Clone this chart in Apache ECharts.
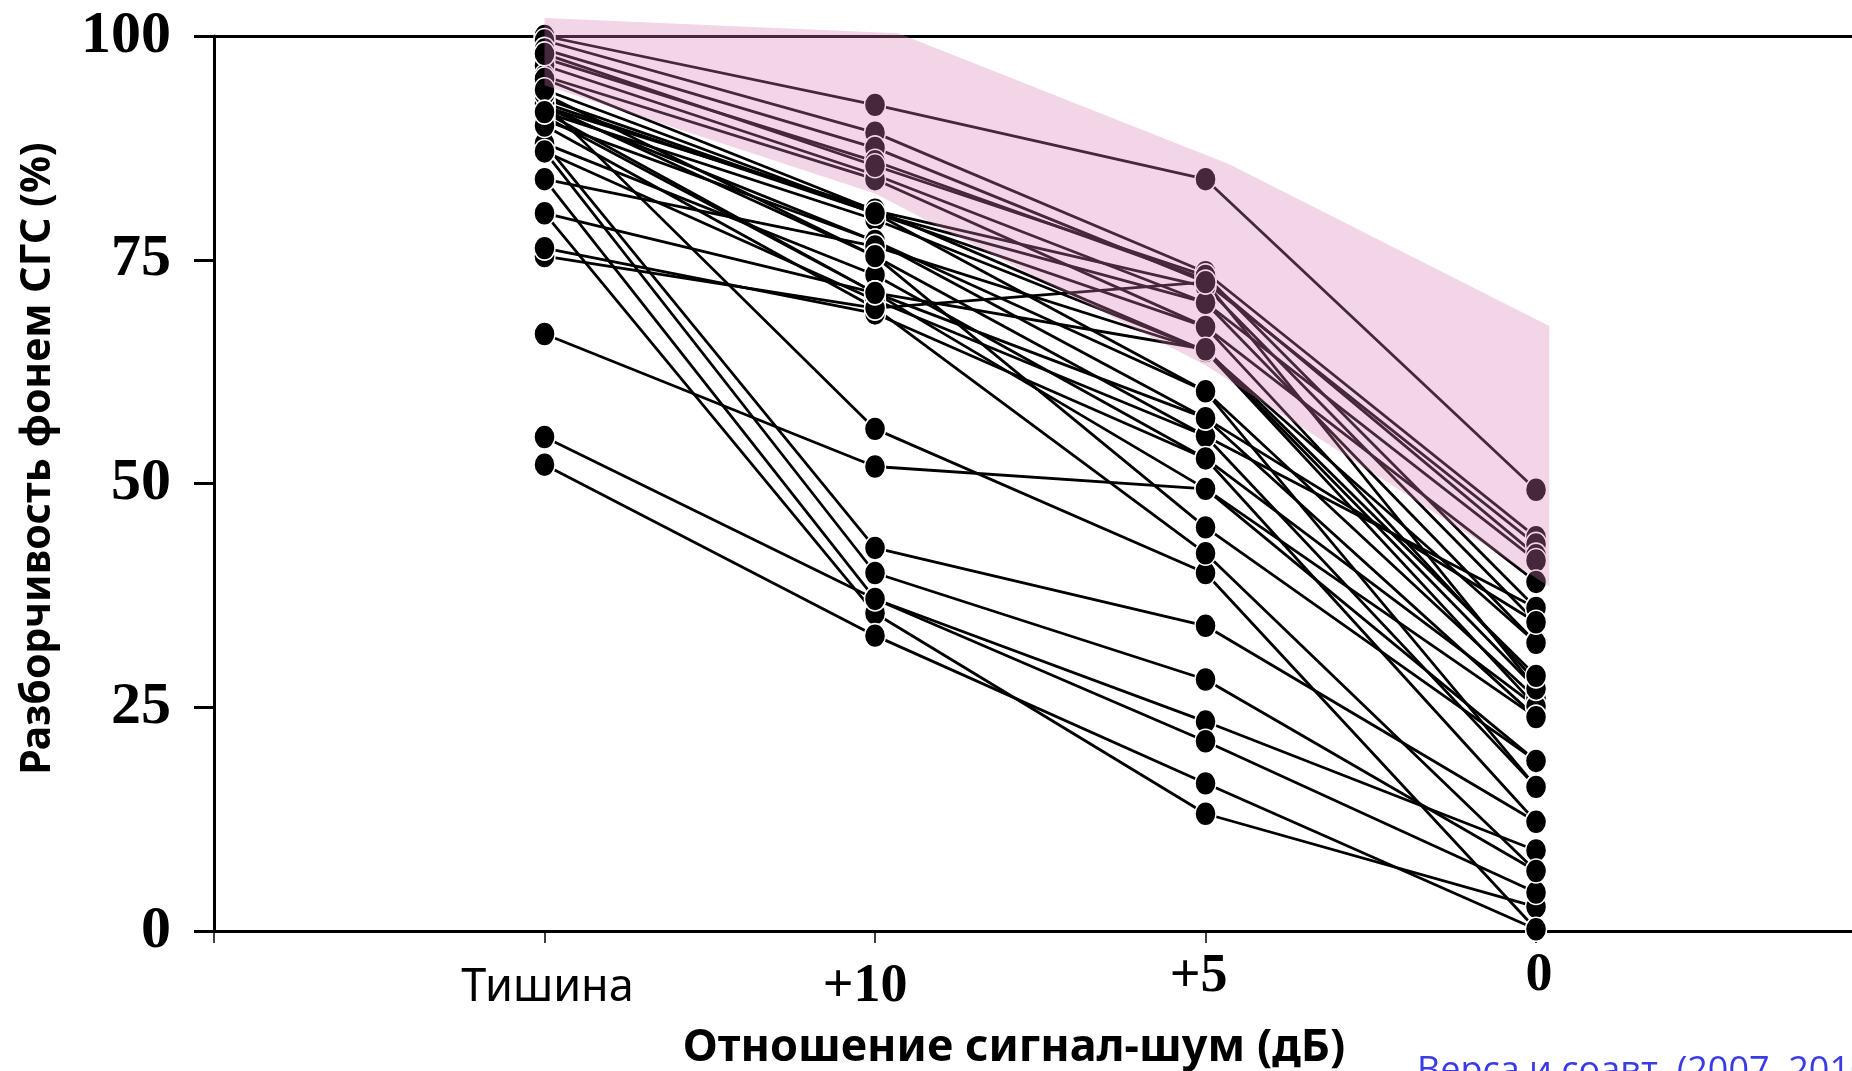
<!DOCTYPE html>
<html>
<head>
<meta charset="utf-8">
<style>
  html, body { margin: 0; padding: 0; background: #ffffff; }
  #chart { width: 1852px; height: 1071px; }
</style>
<script src="https://cdn.jsdelivr.net/npm/echarts@6/dist/echarts.min.js"></script>
</head>
<body>
<div id="chart"></div>
<script>
// Conditions (x categories)
const xCategories = ['Тишина', '+10', '+5', '0'];
// Y axis ticks
const yTicks = [0, 25, 50, 75, 100];

// Per-listener scores (%), one value per subject in each condition
const silence = [100, 99.5, 98.5, 97.5, 96.7, 95.5, 98.0, 95.2, 93.0, 92.5, 92.1, 91.5, 92.0, 90.6, 92.3, 88.0, 91.0,
                 84.0, 87.1, 75.4, 80.2, 76.3, 66.7, 92.5, 88.0, 87.1, 84.0, 80.2, 55.2, 52.1, 90.0, 93.5, 94.0, 91.5];
const snr10   = [92.3, 89.2, 87.5, 86.0, 84.5, 84.0, 85.5, 80.5, 80.2, 80.2, 80.6, 79.5, 77.1, 77.1, 75.4, 73.3, 71.3,
                 76.5, 70.5, 69.6, 71.3, 69.0, 51.9, 56.1, 42.8, 40.0, 37.1, 35.5, 37.1, 33.0, 69.6, 75.4, 80.2, 71.3];
const snr5    = [84.0, 73.6, 72.5, 72.8, 70.2, 67.5, 73.2, 72.0, 70.2, 67.5, 64.8, 64.8, 60.3, 57.3, 55.3, 52.8, 49.4,
                 64.8, 55.3, 72.5, 57.3, 52.8, 49.4, 40.0, 34.1, 28.1, 23.4, 13.1, 21.2, 16.5, 42.2, 45.1, 60.3, 65.0];
const snr0    = [49.3, 44.0, 43.2, 42.0, 41.4, 39.0, 36.1, 34.5, 32.2, 27.9, 27.1, 25.1, 26.0, 23.9, 36.1, 25.1, 19.0,
                 32.2, 16.1, 27.1, 34.5, 12.2, 23.9, 0.2, 12.2, 6.7, 9.0, 2.7, 4.3, 0.2, 6.7, 19.0, 16.1, 28.5];

// Normal-hearing range band (shaded polygon)
const bandUpperX = [0, 1.07, 2.07, 3.04];
const bandUpperY = [102, 100.3, 85.7, 67.6];
const bandLowerX = [0, 1.0, 2.0, 3.04];
const bandLowerY = [94.5, 82.4, 63.2, 38.5];

const citation = 'Верса и соавт. (2007, 2010)';

const chart = echarts.init(document.getElementById('chart'), null, { renderer: 'canvas' });

const columns = [silence, snr10, snr5, snr0];
const series = [];
for (let i = 0; i < silence.length; i++) {
  series.push({
    type: 'line',
    data: columns.map((col, c) => [c, col[i]]),
    symbol: 'circle',
    symbolSize: [21, 24],
    lineStyle: { color: '#000', width: 2.8 },
    itemStyle: { color: '#000', borderColor: '#fff', borderWidth: 1.5 },
    emphasis: { disabled: true },
    z: 2
  });
}

series.push({
  type: 'custom',
  clip: false,
  z: 10,
  silent: true,
  data: [0],
  renderItem: function (params, api) {
    const pts = [];
    for (let k = 0; k < bandUpperX.length; k++) pts.push(api.coord([bandUpperX[k], bandUpperY[k]]));
    for (let k = bandLowerX.length - 1; k >= 0; k--) pts.push(api.coord([bandLowerX[k], bandLowerY[k]]));
    return {
      type: 'polygon',
      shape: { points: pts },
      style: { fill: 'rgba(215,123,178,0.32)', stroke: null }
    };
  }
});

const numStyle = { fontFamily: 'Liberation Serif', fontWeight: 'bold', fontSize: 54, lineHeight: 46, color: '#000' };

const option = {
  animation: false,
  backgroundColor: '#ffffff',
  grid: { left: 214, right: 0, top: 36, bottom: 140, containLabel: false, outerBoundsMode: 'none' },
  xAxis: [{
    type: 'value',
    min: -1,
    max: 3.956,
    interval: 1,
    splitLine: { show: false },
    axisLine: { show: true, onZero: false, lineStyle: { color: '#000', width: 3 } },
    axisTick: { show: true, length: 12, lineStyle: { color: '#000', width: 1.5 } },
    axisLabel: {
      margin: 16,
      verticalAlign: 'top',
      showMinLabel: true,
      showMaxLabel: false,
      formatter: function (v) {
        const idx = Math.round(v);
        if (idx >= 0 && idx < xCategories.length && Math.abs(v - idx) < 1e-6) {
          return '{s' + idx + '|' + xCategories[idx] + '}';
        }
        return '';
      },
      rich: {
        s0: { fontFamily: 'Noto Sans', fontSize: 45, lineHeight: 44, color: '#000', padding: [39, 0, 0, 6] },
        s1: Object.assign({}, numStyle, { padding: [35, 20, 0, 0] }),
        s2: Object.assign({}, numStyle, { padding: [15, 14, 0, 0] }),
        s3: Object.assign({}, numStyle, { padding: [12, 0, 0, 6] })
      }
    },
    name: 'Отношение сигнал-шум (дБ)',
    nameLocation: 'middle',
    nameGap: 95,
    nameTextStyle: { fontFamily: 'Noto Sans', fontWeight: 'bold', fontSize: 45, color: '#000', padding: [0, 38, 0, 0] }
  }, {
    type: 'value',
    position: 'top',
    min: -1,
    max: 3.956,
    interval: 1,
    splitLine: { show: false },
    axisLine: { show: true, onZero: false, lineStyle: { color: '#000', width: 3 } },
    axisTick: { show: false },
    axisLabel: { show: false }
  }],
  yAxis: {
    type: 'value',
    min: yTicks[0],
    max: yTicks[yTicks.length - 1],
    interval: 25,
    splitLine: { show: false },
    axisLine: { show: true, onZero: false, lineStyle: { color: '#000', width: 3 } },
    axisTick: { show: true, length: 20, lineStyle: { color: '#000', width: 3 } },
    axisLabel: {
      margin: 43,
      fontFamily: 'Liberation Serif',
      fontWeight: 'bold',
      fontSize: 60,
      color: '#000'
    },
    name: 'Разборчивость фонем СГС (%)',
    nameLocation: 'middle',
    nameRotate: 90,
    nameGap: 155,
    nameTextStyle: { fontFamily: 'Noto Sans', fontWeight: 'bold', fontSize: 41, color: '#000', padding: [0, 0, 0, 50] }
  },
  graphic: [{
    type: 'text',
    left: 1417,
    top: 1054,
    style: { text: citation, fontFamily: 'Open Sans', fontSize: 36, fill: '#3b3be6' }
  }],
  series: series
};

chart.setOption(option);
</script>
</body>
</html>
